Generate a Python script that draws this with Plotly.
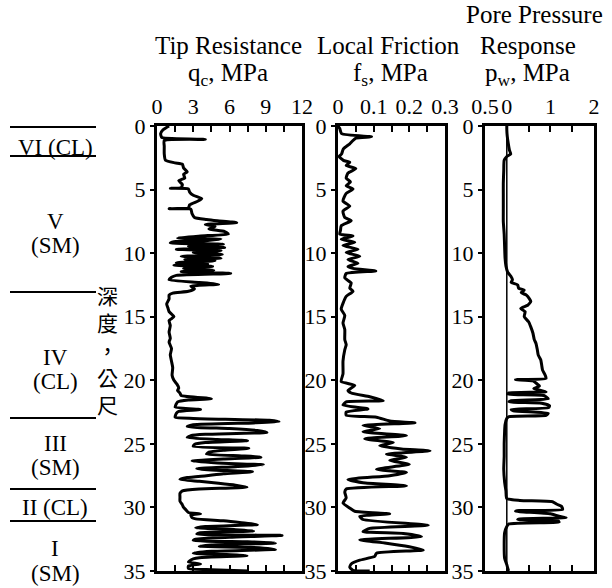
import plotly.graph_objects as go

W, H = 612, 588

# ---------------- data (depth in m, value) ----------------
qc_points = [
    (0.0, 1.0), (0.3, 0.5), (0.6, 0.3), (0.9, 0.4), (1.05, 4.0), (1.15, 0.6), (1.6, 0.6), (2.2, 0.6),
    (2.7, 0.7), (2.9, 1.5), (3.0, 2.1), (3.3, 2.2), (3.6, 2.5), (3.8, 2.2), (4.1, 2.3), (4.3, 1.8),
    (4.6, 2.1), (4.85, 2.0), (4.9, 1.1), (4.95, 2.6), (5.2, 2.7), (5.45, 3.0), (5.7, 3.7), (5.9, 3.4),
    (6.2, 2.7), (6.45, 2.6), (6.5, 1.0), (6.55, 2.8), (6.9, 2.9), (7.2, 3.1), (7.35, 4.1), (7.45, 5.0),
    (7.6, 6.6), (7.75, 4.0), (7.9, 4.8), (8.1, 4.3), (8.3, 5.6), (8.5, 5.9), (8.65, 3.6), (8.8, 1.7),
    (8.9, 5.3), (9.0, 4.2), (9.1, 1.4), (9.2, 1.1), (9.3, 5.5), (9.45, 2.6), (9.55, 5.6), (9.7, 1.6),
    (9.8, 5.3), (9.95, 3.0), (10.1, 5.4), (10.25, 2.0), (10.4, 5.3), (10.5, 2.3), (10.6, 4.8),
    (10.75, 1.6), (10.85, 4.2), (10.95, 1.4), (11.05, 4.6), (11.2, 2.2), (11.35, 4.7), (11.45, 2.0),
    (11.6, 6.1), (11.75, 1.6), (11.9, 1.2), (12.1, 1.0), (12.3, 3.5), (12.45, 5.1), (12.6, 2.8),
    (12.8, 3.1), (13.0, 2.6), (13.15, 1.3), (13.3, 1.0), (13.6, 1.0), (14.0, 0.8), (14.3, 0.9),
    (14.6, 1.0), (15.0, 1.4), (15.3, 1.0), (15.7, 1.1), (16.2, 1.0), (16.7, 1.1), (17.0, 1.0),
    (17.5, 1.2), (18.0, 1.1), (18.5, 1.2), (19.0, 1.3), (19.6, 1.25), (20.0, 1.4), (20.3, 1.65),
    (20.6, 1.8), (20.8, 1.7), (21.0, 1.9), (21.2, 2.0), (21.45, 4.5), (21.55, 2.6), (21.7, 1.7),
    (21.85, 1.6), (22.1, 1.5), (22.3, 3.6), (22.45, 1.8), (22.6, 1.6), (22.9, 1.5), (23.0, 3.0),
    (23.15, 9.3), (23.25, 10.1), (23.35, 8.0), (23.5, 3.0), (23.65, 2.5), (23.8, 6.0), (23.95, 8.3),
    (24.1, 9.1), (24.25, 4.0), (24.35, 2.8), (24.5, 2.5), (24.65, 5.0), (24.75, 7.5), (24.9, 4.0),
    (25.05, 3.1), (25.2, 3.0), (25.35, 7.6), (25.5, 5.5), (25.65, 4.3), (25.8, 4.1), (25.95, 7.0),
    (26.05, 8.6), (26.2, 5.5), (26.35, 2.9), (26.5, 5.0), (26.65, 8.8), (26.8, 6.5), (26.95, 3.3),
    (27.05, 4.5), (27.2, 7.9), (27.35, 5.5), (27.5, 4.1), (27.65, 2.5), (27.8, 1.9), (27.95, 3.5),
    (28.1, 5.1), (28.25, 6.5), (28.4, 7.45), (28.55, 3.5), (28.7, 2.1), (28.9, 1.9), (29.2, 1.9),
    (29.5, 1.9), (29.8, 2.1), (30.0, 2.2), (30.2, 2.4), (30.4, 2.6), (30.5, 3.6), (30.6, 2.8),
    (30.8, 2.9), (30.9, 3.2), (31.05, 5.5), (31.2, 7.0), (31.35, 8.3), (31.5, 4.0), (31.6, 3.2),
    (31.75, 6.5), (31.85, 8.0), (32.0, 3.5), (32.1, 3.3), (32.2, 10.35), (32.35, 6.0), (32.5, 3.2),
    (32.6, 3.0), (32.7, 7.5), (32.8, 9.8), (32.95, 4.5), (33.05, 3.5), (33.15, 8.0), (33.3, 9.8),
    (33.45, 4.5), (33.6, 3.0), (33.7, 5.5), (33.8, 7.45), (33.95, 3.5), (34.05, 3.0), (34.2, 2.7),
    (34.3, 2.6), (34.45, 3.6), (34.6, 2.6), (34.8, 2.6), (34.9, 4.5), (35.0, 7.6),
]

fs_points = [
    (0.0, 0.0), (0.2, 0.005), (0.6, 0.01), (0.85, 0.094), (0.95, 0.05), (1.2, 0.04), (1.4, 0.033),
    (1.8, 0.015), (2.2, 0.01), (2.4, 0.003), (2.7, 0.015), (2.85, 0.033), (3.1, 0.023), (3.35, 0.05),
    (3.7, 0.028), (4.1, 0.023), (4.4, 0.035), (4.7, 0.023), (4.95, 0.042), (5.3, 0.023), (5.9, 0.014),
    (6.3, 0.033), (6.7, 0.014), (7.2, 0.019), (7.45, 0.037), (7.85, 0.009), (8.2, 0.007), (8.5, 0.005),
    (8.65, 0.042), (8.9, 0.009), (9.15, 0.047), (9.4, 0.014), (9.7, 0.056), (9.95, 0.023),
    (10.25, 0.061), (10.5, 0.028), (10.8, 0.056), (11.05, 0.028), (11.2, 0.042), (11.4, 0.106),
    (11.6, 0.023), (11.95, 0.019), (12.35, 0.037), (12.75, 0.033), (13.0, 0.042), (13.4, 0.023),
    (13.95, 0.014), (14.4, 0.009), (14.9, 0.019), (15.5, 0.014), (16.0, 0.019), (16.8, 0.019),
    (17.2, 0.023), (17.6, 0.019), (18.5, 0.014), (19.5, 0.014), (20.1, 0.009), (20.4, 0.047),
    (20.8, 0.028), (21.0, 0.037), (21.3, 0.089), (21.6, 0.127), (21.7, 0.023), (21.95, 0.014),
    (22.25, 0.084), (22.5, 0.023), (22.75, 0.023), (22.9, 0.108), (23.2, 0.145), (23.35, 0.216),
    (23.55, 0.07), (23.8, 0.117), (24.05, 0.07), (24.35, 0.192), (24.6, 0.075), (24.9, 0.155),
    (25.15, 0.117), (25.4, 0.178), (25.55, 0.258), (25.8, 0.136), (26.05, 0.192), (26.3, 0.145),
    (26.6, 0.2), (27.0, 0.108), (27.25, 0.192), (27.5, 0.145), (27.8, 0.028), (28.05, 0.07),
    (28.3, 0.192), (28.55, 0.023), (28.8, 0.019), (29.25, 0.023), (29.65, 0.014), (30.05, 0.033),
    (30.3, 0.047), (30.5, 0.145), (30.7, 0.061), (30.95, 0.07), (31.4, 0.253), (31.65, 0.089),
    (31.9, 0.07), (32.05, 0.183), (32.3, 0.234), (32.55, 0.061), (32.8, 0.131), (33.1, 0.2),
    (33.35, 0.239), (33.6, 0.108), (33.85, 0.103), (34.15, 0.061), (34.45, 0.037), (34.7, 0.033),
    (34.95, 0.042), (35.0, 0.089),
]

pw_points = [
    (0.0, 0.0), (0.3, 0.0), (0.8, 0.01), (1.3, 0.03), (1.9, 0.06), (2.2, 0.09), (2.4, 0.0),
    (2.7, -0.06), (3.5, -0.07), (4.5, -0.08), (5.3, -0.08), (6.5, -0.08), (7.5, -0.08), (8.5, -0.06),
    (9.5, -0.05), (10.4, -0.04), (11.0, -0.02), (11.5, 0.02), (11.8, 0.09), (12.1, 0.13), (12.3, 0.10),
    (12.5, 0.25), (12.75, 0.27), (12.9, 0.40), (13.1, 0.33), (13.3, 0.45), (13.6, 0.52), (13.8, 0.55),
    (14.1, 0.48), (14.35, 0.32), (14.6, 0.42), (15.0, 0.40), (15.4, 0.50), (15.8, 0.55), (16.3, 0.60),
    (16.8, 0.63), (17.1, 0.67), (17.6, 0.70), (18.0, 0.72), (18.4, 0.78), (18.8, 0.80), (19.2, 0.82),
    (19.6, 0.88), (19.85, 0.9), (19.95, 0.2), (20.05, 0.6), (20.3, 0.70), (20.45, 0.75), (20.65, 0.62),
    (20.9, 0.90), (21.0, 0.05), (21.1, 0.02), (21.2, 0.85), (21.45, 0.95), (21.6, 0.10), (21.7, 0.05),
    (21.8, 0.80), (22.0, 0.98), (22.15, 0.96), (22.3, 0.10), (22.4, 0.15), (22.6, 0.95), (22.75, 0.90),
    (22.85, 0.05), (23.0, 0.0), (23.5, -0.04), (24.0, -0.05), (25.0, -0.06), (26.0, -0.06),
    (27.0, -0.07), (28.0, -0.05), (28.7, -0.02), (29.3, 0.0), (29.45, 0.3), (29.55, 1.05),
    (29.75, 1.15), (29.9, 1.25), (30.15, 1.28), (30.25, 0.28), (30.3, 0.2), (30.5, 1.0), (30.7, 1.2),
    (30.8, 1.36), (30.9, 0.30), (30.95, 0.25), (31.05, 1.15), (31.15, 1.2), (31.3, 0.05), (31.5, 0.0),
    (32.0, -0.05), (33.0, -0.06), (34.0, -0.05), (34.5, 0.0), (35.0, 0.04),
]

depth_ticks = [0, 5, 10, 15, 20, 25, 30, 35]
qc_ticks = [0, 1.5, 3, 4.5, 6, 7.5, 9, 10.5, 12]
qc_ticktext = ["0", "", "3", "", "6", "", "9", "", "12"]
fs_ticks = [0, 0.05, 0.1, 0.15, 0.2, 0.25, 0.3]
fs_ticktext = ["0", "", "0.1", "", "0.2", "", "0.3"]
pw_ticks = [-0.5, 0, 0.5, 1, 1.5, 2]
pw_ticktext = ["0.5", "0", "", "1", "", "2"]

strata_labels = ["VI (CL)", "V", "(SM)", "IV", "(CL)", "III", "(SM)", "II (CL)", "I", "(SM)"]
strata_label_y = [147, 222, 245, 357, 381, 443, 467, 507, 548, 573]   # page position of each label
strata_line_y = [127, 156, 292, 418, 489, 521]                          # page position of each boundary

# ---------------- figure ----------------
SERIF = "Liberation Serif"
CJK = "Noto Sans CJK TC"


def px(x):
    return x / W


def py(y):
    return 1 - y / H


fig = go.Figure()
for i, pts in enumerate([qc_points, fs_points, pw_points]):
    suffix = "" if i == 0 else str(i + 1)
    fig.add_trace(go.Scatter(
        x=[p[1] for p in pts], y=[p[0] for p in pts], mode="lines",
        line=dict(color="black", width=3, shape="spline", smoothing=0.5),
        xaxis="x" + suffix, yaxis="y" + suffix, showlegend=False, hoverinfo="skip",
    ))

domains = [(157, 302), (338, 445), (485, 594)]
ranges = [[0, 12], [0, 0.3], [-0.5, 2]]
tickv = [qc_ticks, fs_ticks, pw_ticks]
tickt = [qc_ticktext, fs_ticktext, pw_ticktext]
ydom = [py(571), py(126)]

layout = dict(
    template="none",
    width=W, height=H, margin=dict(l=0, r=0, t=0, b=0, autoexpand=False),
    paper_bgcolor="white", plot_bgcolor="white", showlegend=False,
    font=dict(family=SERIF, color="black", size=21),
)
for i in range(3):
    suffix = "" if i == 0 else str(i + 1)
    layout["xaxis" + suffix] = dict(
        domain=[px(domains[i][0]), px(domains[i][1])], range=ranges[i], side="top",
        anchor="y" + suffix, showgrid=False, zeroline=False, automargin=False,
        showline=True, linecolor="black", linewidth=3, mirror="ticks",
        ticks="inside", ticklen=6, tickwidth=2, tickcolor="black",
        tickmode="array", tickvals=tickv[i], ticktext=tickt[i],
        tickfont=dict(family=SERIF, size=22, color="black"),
    )
    layout["yaxis" + suffix] = dict(
        domain=ydom, range=[35, 0], anchor="x" + suffix, showgrid=False, zeroline=False,
        automargin=False,
        showline=True, linecolor="black", linewidth=3, mirror=True,
        ticks="outside", ticklen=4, tickwidth=2, tickcolor="black",
        tickmode="array", tickvals=depth_ticks,
        tickfont=dict(family=SERIF, size=22, color="black"),
    )
fig.update_layout(**layout)

# zero line in pore pressure panel
fig.add_shape(type="line", xref="x3", yref="y3 domain", x0=0, x1=0, y0=0, y1=1,
              line=dict(color="black", width=1.5))

# titles
titles = [
    ("Tip Resistance", 228, 45), ("q<sub>c</sub>, MPa", 228, 74),
    ("Local Friction", 388, 45), ("f<sub>s</sub>, MPa", 391, 74),
    ("Pore Pressure", 534, 15), ("Response", 528, 45), ("p<sub>w</sub>, MPa", 527, 74),
]
for txt, x, y in titles:
    fig.add_annotation(text=txt, xref="paper", yref="paper", x=px(x), y=py(y),
                       xanchor="center", yanchor="middle", showarrow=False,
                       font=dict(family=SERIF, size=25, color="black"))

# strata
for yy in strata_line_y:
    fig.add_shape(type="line", xref="paper", yref="paper", x0=px(10), x1=px(96), y0=py(yy), y1=py(yy),
                  line=dict(color="black", width=2))
for txt, yy in zip(strata_labels, strata_label_y):
    fig.add_annotation(text=txt, xref="paper", yref="paper", x=px(55), y=py(yy),
                       xanchor="center", yanchor="middle", showarrow=False,
                       font=dict(family=SERIF, size=23, color="black"))

fig.add_annotation(text="深<br>度<br>，<br>公<br>尺", xref="paper", yref="y", x=px(107), y=17.6,
                   xanchor="center", yanchor="middle", showarrow=False,
                   font=dict(family=CJK, size=21, color="black"))

fig.write_html("out.html")
